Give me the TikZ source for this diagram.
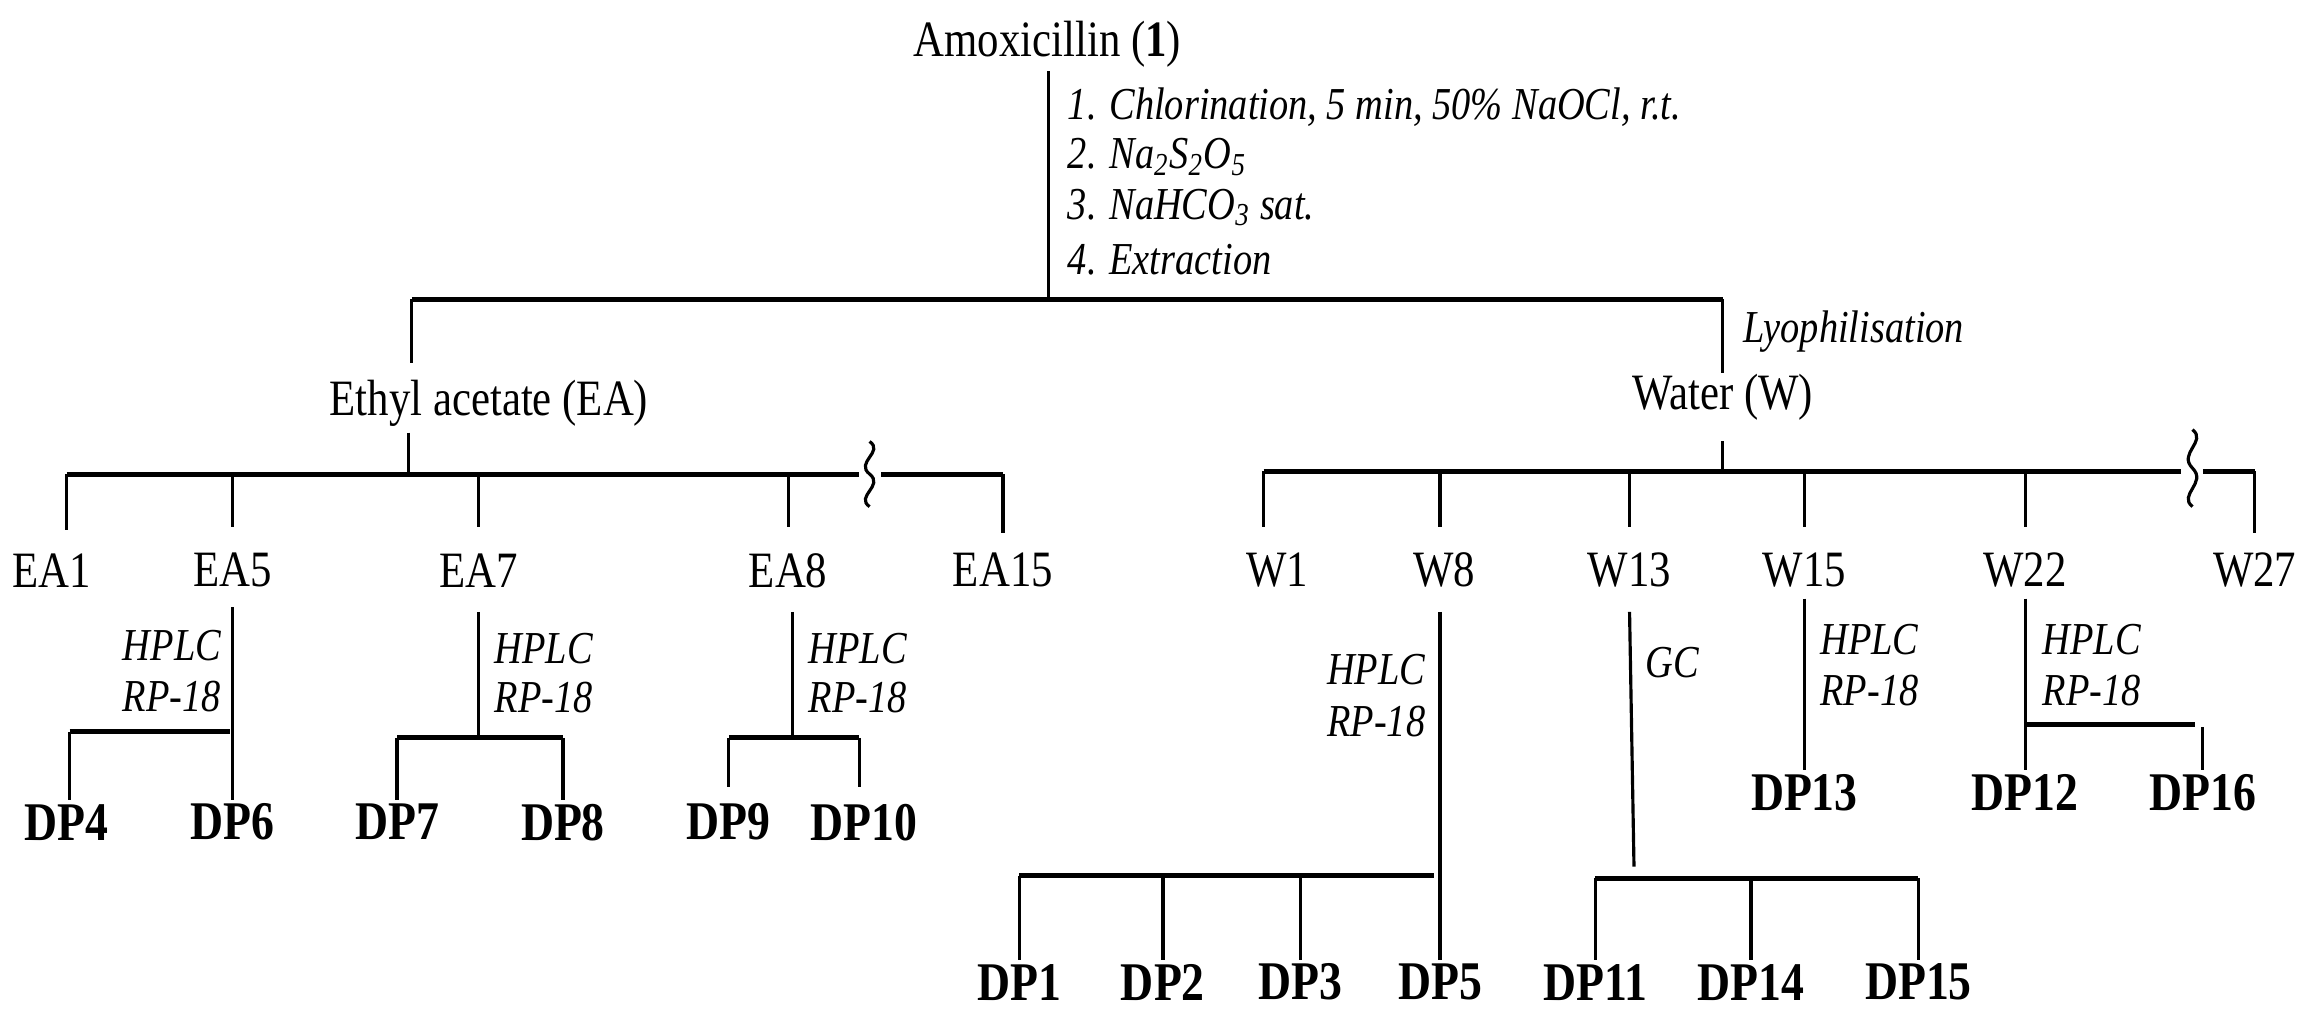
\documentclass[tikz,border=0pt]{standalone}
\usepackage{fontspec}
\setmainfont{Liberation Serif}[FakeStretch=0.84]
\usepackage{tikz}

\tikzset{
  lbl/.style={font=\fontsize{14.5}{16}\selectfont, inner sep=1pt},
  dp/.style={font=\fontsize{15.5}{17}\selectfont\bfseries, inner sep=1pt},
  cond/.style={font=\fontsize{13}{14}\selectfont\itshape, inner sep=1pt},
  bar/.style={line width=1.4pt},
  stem/.style={line width=0.9pt},
  wave/.style={line width=0.9pt}
}

\begin{document}
\begin{tikzpicture}[x=0.014814cm,y=-0.014814cm]
\useasboundingbox (0,0) rectangle (1560,685);

% top
\node [lbl] (amox) at (707,30) {Amoxicillin (\textbf{1})};
\node [cond,anchor=west] (c1) at (718,72) {1. Chlorination, 5 min, 50\% NaOCl, r.t.};
\node [cond,anchor=west] (c2) at (718,106) {2. Na\textsubscript{2}S\textsubscript{2}O\textsubscript{5}};
\node [cond,anchor=west] (c3) at (718,140) {3. NaHCO\textsubscript{3} sat.};
\node [cond,anchor=west] (c4) at (718,175) {4. Extraction};
\coordinate (split) at (708,202);
\draw [stem] (708,48) -- (split);
\coordinate (eaTop) at (278,202);
\coordinate (wTop) at (1163,202);
\draw [bar] (eaTop) -- (wTop);
\node [lbl] (ea) at (330,272) {Ethyl acetate (EA)};
\node [lbl] (w) at (1163,268) {Water (W)};
\draw [stem] (eaTop) -- (278,245);
\draw [stem] (wTop) -- (1163,252);
\node [cond,anchor=west] (lyo) at (1174,224) {Lyophilisation};

% ethyl acetate fractions
\node [lbl] (ea1) at (35,385) {EA1};
\node [lbl] (ea5) at (157,385) {EA5};
\node [lbl] (ea7) at (323,385) {EA7};
\node [lbl] (ea8) at (532,385) {EA8};
\node [lbl] (ea15) at (677,385) {EA15};
\draw [stem] (276,292) -- (276,320);
\draw [bar] (45,320) -- (580,320);
\draw [bar] (595,320) -- (677,320);
\draw [stem] (45,320) -- (45,358);
\draw [stem] (677,320) -- (677,360);
\foreach \x in {157,323,532} \draw [stem] (\x,320) -- (\x,356);
\draw [wave] (587,298) .. controls (597,305) and (577,312) .. (587,320) .. controls (597,328) and (577,335) .. (587,342);

% EA5
\node [dp] (dp4) at (45,555) {DP4};
\node [dp] (dp6) at (157,555) {DP6};
\draw [stem] (157,410) -- (dp6.north);
\node [cond,anchor=east] at (152,436) {HPLC};
\node [cond,anchor=east] at (152,470) {RP-18};
\draw [bar] (47,494) -- (155,494);
\draw [stem] (47,494) -- (dp4.north -| 47,0);

% EA7
\node [dp] (dp7) at (268,555) {DP7};
\node [dp] (dp8) at (380,555) {DP8};
\draw [stem] (323,413) -- (323,497);
\node [cond,anchor=west] at (331,438) {HPLC};
\node [cond,anchor=west] at (331,471) {RP-18};
\draw [bar] (dp7.north |- 0,498) -- (dp8.north |- 0,498);
\draw [stem] (dp7.north |- 0,498) -- (dp7.north);
\draw [stem] (dp8.north |- 0,498) -- (dp8.north);

% EA8
\node [dp] (dp9) at (492,555) {DP9};
\node [dp] (dp10) at (583,555) {DP10};
\draw [stem] (535,413) -- (535,497);
\node [cond,anchor=west] at (543,438) {HPLC};
\node [cond,anchor=west] at (543,471) {RP-18};
\draw [bar] (492,498) -- (580,498);
\draw [stem] (492,498) -- (492,531);
\draw [stem] (580,498) -- (580,531);

% water fractions
\node [lbl] (w1) at (862,385) {W1};
\node [lbl] (w8) at (975,385) {W8};
\node [lbl] (w13) at (1100,385) {W13};
\node [lbl] (w15) at (1218,385) {W15};
\node [lbl] (w22) at (1367,385) {W22};
\node [lbl] (w27) at (1522,385) {W27};
\draw [stem] (1163,298) -- (1163,318);
\draw [bar] (853,318) -- (1472,318);
\draw [bar] (1487,318) -- (1522,318);
\draw [stem] (853,318) -- (853,356);
\draw [stem] (1522,318) -- (1522,360);
\foreach \x in {972,1100,1218,1367} \draw [stem] (\x,318) -- (\x,356);
\draw [wave] (1480,290) .. controls (1490,298) and (1470,306) .. (1480,316) .. controls (1490,326) and (1470,334) .. (1480,342);

% W8
\node [dp] (dp1) at (688,663) {DP1};
\node [dp] (dp2) at (785,663) {DP2};
\node [dp] (dp3) at (878,663) {DP3};
\node [dp] (dp5) at (972,663) {DP5};
\draw [stem] (972,413) -- (dp5.north);
\node [cond,anchor=east] at (965,452) {HPLC};
\node [cond,anchor=east] at (965,487) {RP-18};
\draw [bar] (688,591) -- (968,591);
\foreach \n in {dp1,dp2,dp3} \draw [stem] (\n.north |- 0,591) -- (\n.north);

% W13
\node [dp] (dp11) at (1077,663) {DP11};
\node [dp] (dp14) at (1182,663) {DP14};
\node [dp] (dp15) at (1295,663) {DP15};
\draw [stem] (1100,413) -- (1103,585);
\node [cond,anchor=west] at (1108,447) {GC};
\draw [bar] (dp11.north |- 0,593) -- (dp15.north |- 0,593);
\foreach \n in {dp11,dp14,dp15} \draw [stem] (\n.north |- 0,593) -- (\n.north);

% W15
\node [dp] (dp13) at (1218,535) {DP13};
\draw [stem] (1218,404) -- (dp13.north);
\node [cond,anchor=west] at (1226,432) {HPLC};
\node [cond,anchor=west] at (1226,466) {RP-18};

% W22
\node [dp] (dp12) at (1367,535) {DP12};
\node [dp] (dp16) at (1487,535) {DP16};
\draw [stem] (1367,404) -- (dp12.north);
\node [cond,anchor=west] at (1376,432) {HPLC};
\node [cond,anchor=west] at (1376,466) {RP-18};
\draw [bar] (1367,489) -- (1482,489);
\draw [stem] (dp16.north |- 0,491) -- (dp16.north);
\end{tikzpicture}
\end{document}
